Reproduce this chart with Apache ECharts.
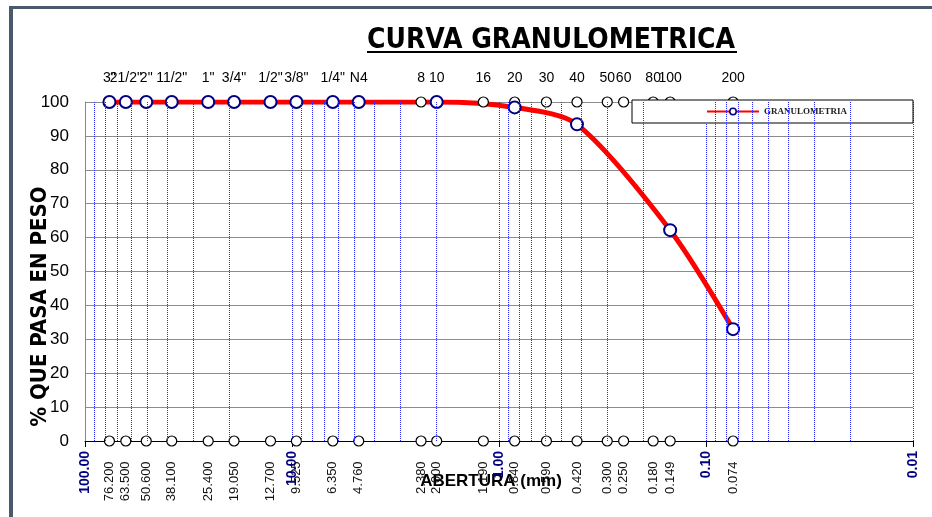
<!DOCTYPE html>
<html>
<head>
<meta charset="utf-8">
<title>Curva granulometrica</title>
<script src="https://cdn.jsdelivr.net/npm/echarts@6/dist/echarts.min.js"></script>
<style>
  html, body { margin: 0; padding: 0; background: #fff; }
  #frame { position: absolute; left: 9px; top: 6px; width: 923px; height: 511px;
           border-left: 4px solid #4b596c; border-top: 3px solid #4b596c; box-sizing: border-box; }
  #main { position: absolute; left: 0; top: 0; width: 932px; height: 517px; }
</style>
</head>
<body>
<div id="frame"></div>
<div id="main"></div>
<script>
// tamices (nombre y abertura en mm)
var sieveNames = ['3"', '21/2"', '2"', '11/2"', '1"', '3/4"', '1/2"', '3/8"', '1/4"', 'N4',
                  '8', '10', '16', '20', '30', '40', '50', '60', '80', '100', '200'];
var sieveOpenings = [76.2, 63.5, 50.6, 38.1, 25.4, 19.05, 12.7, 9.525, 6.35, 4.76,
                     2.38, 2.0, 1.19, 0.84, 0.59, 0.42, 0.3, 0.25, 0.18, 0.149, 0.074];

// curva granulometrica (abertura mm, % que pasa)
var curveOpenings = [76.2, 63.5, 50.6, 38.1, 25.4, 19.05, 12.7, 9.525, 6.35, 4.76,
                     2.0, 0.84, 0.42, 0.149, 0.074];
var curvePassing = [100, 100, 100, 100, 100, 100, 100, 100, 100, 100,
                    100, 98.4, 93.4, 62.2, 33.0];

// lineas secundarias de la escala logaritmica
var minorGrid = [90, 80, 70, 60, 50, 40, 30, 20,
                 9, 8, 7, 6, 5, 4, 3, 2,
                 0.9, 0.8, 0.7, 0.6, 0.5, 0.4, 0.3, 0.2,
                 0.09, 0.08, 0.07, 0.06, 0.05, 0.04, 0.03, 0.02];

var myChart = echarts.init(document.getElementById('main'));

var topRow = sieveOpenings.map(function (d, i) { return { value: [d, 100], name: sieveNames[i] }; });
var bottomRow = sieveOpenings.map(function (d) { return [d, 0]; });
var curve = curveOpenings.map(function (d, i) { return [d, curvePassing[i]]; });

var option = {
    animation: false,
    textStyle: { fontFamily: 'Liberation Sans, Arial, sans-serif' },
    grid: { left: 85, right: 19, top: 102, bottom: 76, outerBoundsMode: 'none', containLabel: false },
    graphic: [
        {
            type: 'text', left: 367, top: 27,
            style: { text: 'CURVA GRANULOMETRICA', fontSize: 28, fontWeight: 'bold',
                     fontFamily: 'DejaVu Sans Condensed, DejaVu Sans, sans-serif', fill: '#000' }
        },
        {
            type: 'rect', left: 367, top: 51,
            shape: { width: 370, height: 2 }, style: { fill: '#000' }
        }
    ],
    legend: {
        left: 632, top: 100,
        data: ['GRANULOMETRIA'],
        backgroundColor: '#fff',
        borderColor: '#000', borderWidth: 1,
        padding: [7, 66, 7, 74],
        itemWidth: 52, itemHeight: 8, itemGap: 5,
        itemStyle: { color: '#fff', borderColor: '#000080', borderWidth: 1.5 },
        textStyle: { fontFamily: 'Liberation Serif, serif', fontWeight: 'bold', fontSize: 9, color: '#222' }
    },
    xAxis: {
        type: 'log', logBase: 10, min: 0.01, max: 100, inverse: true,
        name: 'ABERTURA (mm)', nameLocation: 'middle', nameGap: 32, nameMoveOverlap: false,
        nameTextStyle: { fontSize: 17, fontWeight: 'bold', color: '#000', padding: [0, 16, 0, 0] },
        axisLine: { lineStyle: { color: '#000', width: 1 } },
        axisTick: { show: true, length: 6, lineStyle: { color: '#000' } },
        axisLabel: {
            rotate: 90, margin: 10, fontSize: 14, fontWeight: 'bold', color: '#000080',
            showMinLabel: true, showMaxLabel: true,
            formatter: function (v) { return Number(v).toFixed(2); }
        },
        splitLine: { show: true, lineStyle: { color: '#2b2bff', type: 'dotted', width: 1 } }
    },
    yAxis: {
        type: 'value', min: 0, max: 100, interval: 10,
        name: '% QUE PASA EN PESO', nameLocation: 'middle', nameGap: 34, nameRotate: 90,
        nameMoveOverlap: false,
        nameTextStyle: { fontSize: 22, fontWeight: 'bold', color: '#000', padding: [0, 70, 0, 0],
                         fontFamily: 'DejaVu Sans Condensed, DejaVu Sans, sans-serif' },
        axisLine: { show: true, lineStyle: { color: '#888' } },
        axisTick: { show: false },
        axisLabel: { fontSize: 17, color: '#000', margin: 16 },
        splitLine: { show: true, lineStyle: { color: '#8c8c8c', width: 1 } }
    },
    series: [
        {
            // lineas de rejilla menores
            name: 'grid', type: 'line', data: [], silent: true, z: 1,
            markLine: {
                silent: true, symbol: 'none', animation: false,
                label: { show: false },
                lineStyle: { color: '#2b2bff', type: 'dotted', width: 1 },
                data: minorGrid.map(function (v) { return { xAxis: v }; })
            }
        },
        {
            name: 'GRANULOMETRIA', type: 'line', data: curve, z: 2,
            smooth: 0.28,
            showSymbol: true, symbol: 'circle', symbolSize: 5,
            lineStyle: { color: '#ff0000', width: 5 },
            itemStyle: { color: '#ff0000', borderColor: '#000080', borderWidth: 2 }
        },
        {
            name: 'tamiz', type: 'scatter', data: topRow, z: 3,
            symbol: 'circle', symbolSize: 10,
            itemStyle: { color: '#fff', borderColor: '#000', borderWidth: 1.2, opacity: 1 },
            label: {
                show: true, position: 'top', distance: 11, fontSize: 14, color: '#000',
                formatter: function (p) { return p.name; }
            }
        },
        {
            name: 'abertura', type: 'scatter', data: bottomRow, z: 3,
            symbol: 'circle', symbolSize: 10,
            itemStyle: { color: '#fff', borderColor: '#000', borderWidth: 1.2, opacity: 1 },
            label: {
                show: true, position: ['50%', 26], rotate: 90,
                align: 'right', verticalAlign: 'middle', fontSize: 13, color: '#111',
                formatter: function (p) { return p.value[0].toFixed(3); }
            }
        },
        {
            name: 'puntos', type: 'scatter', data: curve, z: 4,
            symbol: 'circle', symbolSize: 12,
            itemStyle: { color: '#fff', borderColor: '#000080', borderWidth: 2, opacity: 1 }
        }
    ]
};

myChart.setOption(option);
</script>
</body>
</html>
